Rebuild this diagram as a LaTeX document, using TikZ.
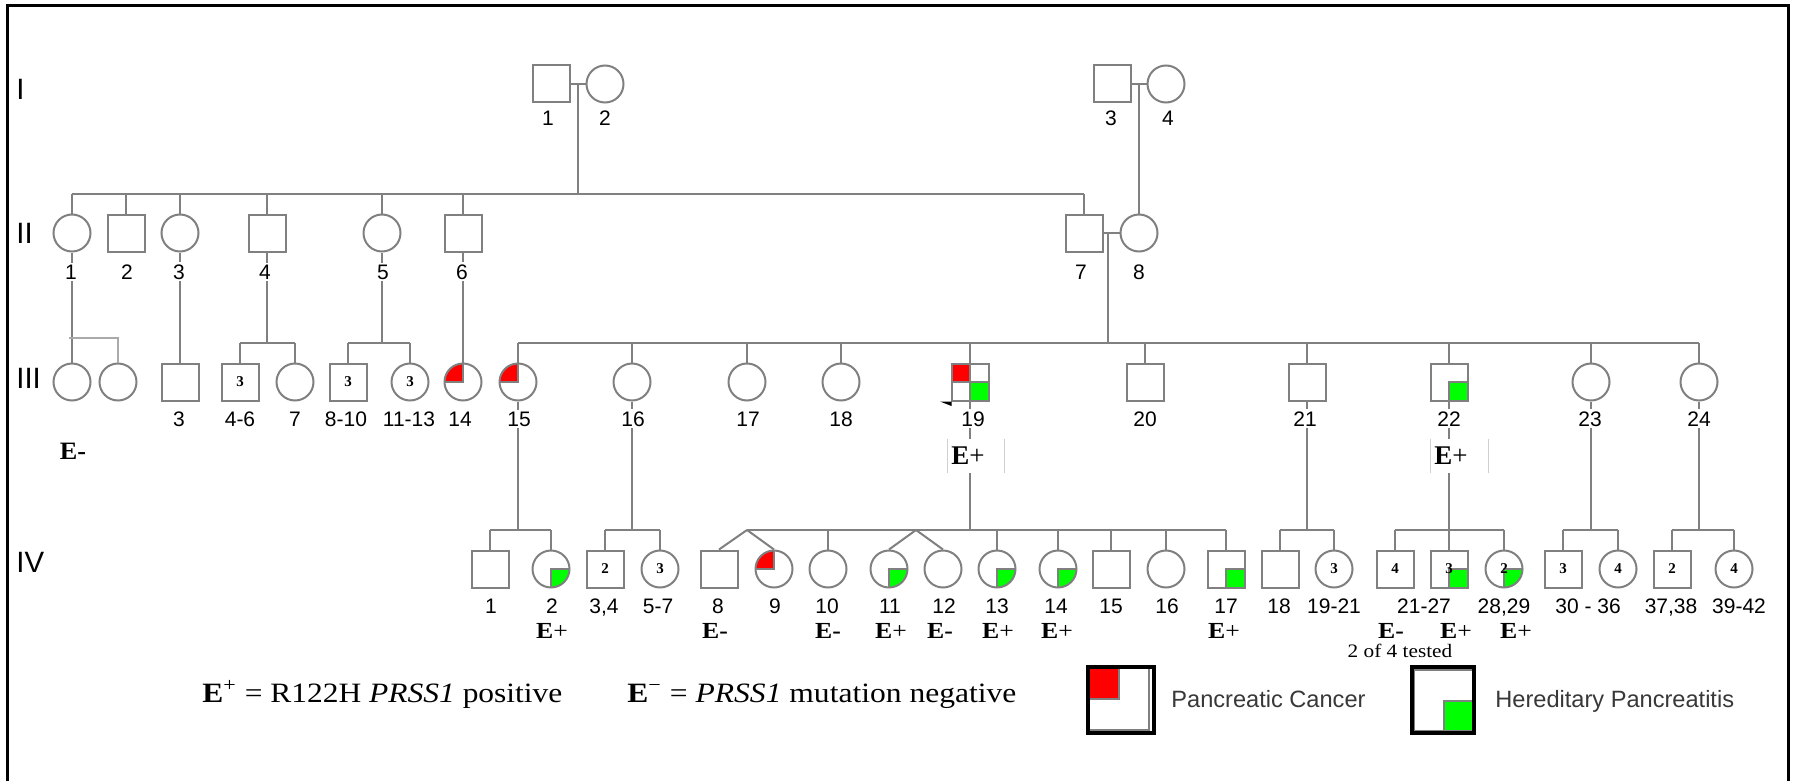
\documentclass[tikz,border=0pt]{standalone}
\usepackage{fontspec}
\setmainfont{Liberation Serif}
\setsansfont{Liberation Sans}
\usepackage{graphicx}
\usetikzlibrary{calc}
\definecolor{lc}{HTML}{808080}
\definecolor{lc2}{HTML}{AAAAAA}
\definecolor{lc3}{HTML}{D0D0D0}
\definecolor{pcred}{HTML}{FF0000}
\definecolor{hpgreen}{HTML}{00FF00}
\definecolor{legtext}{HTML}{383838}
\tikzset{
  sym/.style={draw=lc, line width=1pt, inner sep=0pt, font=\rmfamily\bfseries\fontsize{7.5}{7.5}\selectfont},
  male/.style={sym, rectangle, minimum size=18.5pt},
  female/.style={sym, circle, minimum size=18.5pt},
  pc/.style={path picture={\fill[pcred] (path picture bounding box.north west) rectangle (path picture bounding box.center);
     \draw[lc,line width=1pt] (path picture bounding box.north) -- (path picture bounding box.center) -- (path picture bounding box.west);}},
  hp/.style={path picture={\fill[hpgreen] (path picture bounding box.center) rectangle (path picture bounding box.south east);
     \draw[lc,line width=1pt] (path picture bounding box.south) -- (path picture bounding box.center) -- (path picture bounding box.east);}},
  pchp/.style={path picture={\fill[pcred] (path picture bounding box.north west) rectangle (path picture bounding box.center);
     \fill[hpgreen] (path picture bounding box.center) rectangle (path picture bounding box.south east);
     \draw[lc,line width=1pt] (path picture bounding box.north) -- (path picture bounding box.south);
     \draw[lc,line width=1pt] (path picture bounding box.west) -- (path picture bounding box.east);}},
  conn/.style={draw=lc, line width=1pt},
  lbl/.style={font=\sffamily\fontsize{10.5}{10.5}\selectfont, fill=white, inner sep=1pt, anchor=base},
  gen/.style={font=\sffamily\fontsize{14.7}{14.7}\selectfont, anchor=base west, inner sep=0pt},
  eiv/.style={font=\rmfamily\fontsize{11.5}{11.5}\selectfont, inner sep=0.5pt, anchor=base},
  ebox/.style={fill=white, minimum height=17pt, inner sep=0pt},
  etxt/.style={font=\rmfamily\fontsize{13.5}{13.5}\selectfont, inner sep=0pt, anchor=base},
  legtxt/.style={font=\sffamily\fontsize{11.8}{11.8}\selectfont, text=legtext, anchor=base west, inner sep=0pt},
  key/.style={font=\rmfamily\fontsize{14}{14}\selectfont, anchor=base west, inner sep=0pt},
}
\newcommand{\Ep}{\scalebox{1.12}[1]{\textbf{E}+}}
\newcommand{\Em}{\scalebox{1.12}[1]{\textbf{E-}}}
\begin{document}
\begin{tikzpicture}[x=0.5pt,y=-0.5pt]
\useasboundingbox (0,0) rectangle (1797,781);
\fill[white] (0,0) rectangle (1797,781);
\draw[black,line width=1.5pt] (7.5,781) -- (7.5,6) -- (1788,6) -- (1788,781);

% generation labels
\node[gen] (gI) at (16,100) {I};
\node[gen] (gII) at (16,243) {II};
\node[gen] (gIII) at (16,388) {III};
\node[gen] (gIV) at (16,572) {IV};

% generation I
\node[male] (I1) at (551,84) {};
\node[female] (I2) at (605,84) {};
\node[male] (I3) at (1112,84) {};
\node[female] (I4) at (1166,84) {};

% generation II
\node[female] (II1) at (72,233) {};
\node[male] (II2) at (126,233) {};
\node[female] (II3) at (180,233) {};
\node[male] (II4) at (267,233) {};
\node[female] (II5) at (382,233) {};
\node[male] (II6) at (463,233) {};
\node[male] (II7) at (1084,233) {};
\node[female] (II8) at (1139,233) {};

% generation III
\node[female] (III1) at (72,382) {};
\node[female] (III2) at (118,382) {};
\node[male] (III3) at (180,382) {};
\node[male] (III4) at (240,382) {3};
\node[female] (III7) at (295,382) {};
\node[male] (III8) at (348,382) {3};
\node[female] (III11) at (410,382) {3};
\node[female,pc] (III14) at (463,382) {};
\node[female,pc] (III15) at (518,382) {};
\node[female] (III16) at (632,382) {};
\node[female] (III17) at (747,382) {};
\node[female] (III18) at (841,382) {};
\node[male,pchp] (III19) at (970,382) {};
\node[male] (III20) at (1145,382) {};
\node[male] (III21) at (1307,382) {};
\node[male,hp] (III22) at (1449,382) {};
\node[female] (III23) at (1591,382) {};
\node[female] (III24) at (1699,382) {};

% generation IV
\node[male] (IV1) at (490,569) {};
\node[female,hp] (IV2) at (551,569) {};
\node[male] (IV3) at (605,569) {2};
\node[female] (IV5) at (660,569) {3};
\node[male] (IV8) at (719,569) {};
\node[female,pc] (IV9) at (774,569) {};
\node[female] (IV10) at (828,569) {};
\node[female,hp] (IV11) at (889,569) {};
\node[female] (IV12) at (943,569) {};
\node[female,hp] (IV13) at (997,569) {};
\node[female,hp] (IV14) at (1058,569) {};
\node[male] (IV15) at (1111,569) {};
\node[female] (IV16) at (1166,569) {};
\node[male,hp] (IV17) at (1226,569) {};
\node[male] (IV18) at (1280,569) {};
\node[female] (IV19) at (1334,569) {3};
\node[male] (IV21) at (1395,569) {4};
\node[male,hp] (IV22) at (1449,569) {3};
\node[female,hp] (IV28) at (1504,569) {2};
\node[male] (IV30) at (1563,569) {3};
\node[female] (IV33) at (1618,569) {4};
\node[male] (IV37) at (1672,569) {2};
\node[female] (IV39) at (1734,569) {4};

% ---------- connectors ----------
\coordinate (m12) at ($(I1.east)!0.5!(I2.west)$);
\coordinate (r2) at (578,194);
\draw[conn] (I1.east) -- (I2.west);
\draw[conn] (m12) -- (r2);
\draw[conn] (II1.north |- r2) -- (II7.north |- r2);
\foreach \n in {II1,II2,II3,II4,II5,II6,II7}
  \draw[conn] (\n.north) -- (\n.north |- r2);

\coordinate (m34) at ($(I3.east)!0.5!(I4.west)$);
\draw[conn] (I3.east) -- (I4.west);
\draw[conn] (m34) -- (m34 |- II8.north);

\coordinate (m78) at (1108,233);
\coordinate (r3) at (1108,343);
\draw[conn] (II7.east) -- (II8.west);
\draw[conn] (m78) -- (r3);
\draw[conn] (III15.north |- r3) -- (III24.north |- r3);
\foreach \n in {III15,III16,III17,III18,III19,III20,III21,III22,III23,III24}
  \draw[conn] (\n.north) -- (\n.north |- r3);

% II-1
\coordinate (t1) at (69,338);
\draw[conn] (II1.south) -- (III1.north);
\draw[conn,draw=lc2] (t1) -| (III2.north);
% II-3
\draw[conn] (II3.south) -- (III3.north);
% II-4
\draw[conn] (II4.south) -- (II4.south |- r3);
\draw[conn] (III4.north |- r3) -- (III7.north |- r3);
\draw[conn] (III4.north) -- (III4.north |- r3);
\draw[conn] (III7.north) -- (III7.north |- r3);
% II-5
\draw[conn] (II5.south) -- (II5.south |- r3);
\draw[conn] (III8.north |- r3) -- (III11.north |- r3);
\draw[conn] (III8.north) -- (III8.north |- r3);
\draw[conn] (III11.north) -- (III11.north |- r3);
% II-6
\draw[conn] (II6.south) -- (III14.north);

% generation IV sibships
\coordinate (r4) at (0,530);
\draw[conn] (III15.south) -- (III15.south |- r4);
\draw[conn] (IV1.north |- r4) -- (IV2.north |- r4);
\draw[conn] (IV1.north) -- (IV1.north |- r4);
\draw[conn] (IV2.north) -- (IV2.north |- r4);

\draw[conn] (III16.south) -- (III16.south |- r4);
\draw[conn] (IV3.north |- r4) -- (IV5.north |- r4);
\draw[conn] (IV3.north) -- (IV3.north |- r4);
\draw[conn] (IV5.north) -- (IV5.north |- r4);

\coordinate (tw1) at (747,530);
\coordinate (tw2) at (916,530);
\draw[conn] (III19.south) -- (III19.south |- r4);
\draw[conn] (tw1) -- (IV17.north |- r4);
\draw[conn] (tw1) -- (IV8.north);
\draw[conn] (tw1) -- (IV9.north);
\draw[conn] (tw2) -- (IV11.north);
\draw[conn] (tw2) -- (IV12.north);
\foreach \n in {IV10,IV13,IV14,IV15,IV16,IV17}
  \draw[conn] (\n.north) -- (\n.north |- r4);

\draw[conn] (III21.south) -- (III21.south |- r4);
\draw[conn] (IV18.north |- r4) -- (IV19.north |- r4);
\draw[conn] (IV18.north) -- (IV18.north |- r4);
\draw[conn] (IV19.north) -- (IV19.north |- r4);

\draw[conn] (III22.south) -- (III22.south |- r4);
\draw[conn] (IV21.north |- r4) -- (IV28.north |- r4);
\foreach \n in {IV21,IV22,IV28}
  \draw[conn] (\n.north) -- (\n.north |- r4);

\draw[conn] (III23.south) -- (III23.south |- r4);
\draw[conn] (IV30.north |- r4) -- (IV33.north |- r4);
\draw[conn] (IV30.north) -- (IV30.north |- r4);
\draw[conn] (IV33.north) -- (IV33.north |- r4);

\draw[conn] (III24.south) -- (III24.south |- r4);
\draw[conn] (IV37.north |- r4) -- (IV39.north |- r4);
\draw[conn] (IV37.north) -- (IV37.north |- r4);
\draw[conn] (IV39.north) -- (IV39.north |- r4);

% proband mark
\fill[black] (940,401.5) -- (951.5,401.5) -- (951.5,406) -- cycle;

% ---------- labels ----------
\foreach \x/\t [count=\i] in {548/1,605/2,1111/3,1168/4}
  \node[lbl] (lI-\i) at (\x,126) {\t};
\foreach \x/\t [count=\i] in {71/1,127/2,179/3,265/4,383/5,462/6,1081/7,1139/8}
  \node[lbl] (lII-\i) at (\x,279) {\t};
\foreach \x/\t [count=\i] in {179/3,240/4-6,295/7,346/8-10,409/11-13,460/14,519/15,633/16,748/17,841/18,973/19,1145/20,1305/21,1449/22,1590/23,1699/24}
  \node[lbl] (lIII-\i) at (\x,426) {\t};
\foreach \x/\t [count=\i] in {491/1,552/2,604/{3,4},658/5-7,718/8,775/9,827/10,890/11,944/12,997/13,1056/14,1111/15,1167/16,1226/17,1279/18,1334/19-21,1424/21-27,1504/{28,29},1588/30 - 36,1671/{37,38},1739/39-42}
  \node[lbl] (lIV-\i) at (\x,613) {\t};

% test results
\node[font=\rmfamily\bfseries\fontsize{12.5}{12.5}\selectfont, inner sep=0pt, anchor=base] (eIII1) at (73,459) {\scalebox{1.05}[1]{E-}};

\node[ebox, minimum width=28pt] (b19) at (976,456) {};
\draw[lc3, line width=0.5pt] (b19.north west) -- (b19.south west);
\draw[lc3, line width=0.5pt] (b19.north east) -- (b19.south east);
\node[etxt] (e19) at (968,464) {\textbf{E}+};

\node[ebox, minimum width=28.5pt] (b22) at (1459.5,456) {};
\draw[lc3, line width=0.5pt] (b22.north west) -- (b22.south west);
\draw[lc3, line width=0.5pt] (b22.north east) -- (b22.south east);
\node[etxt] (e22) at (1451,464) {\textbf{E}+};

\foreach \x/\s [count=\i] in {552/p,715/m,828/m,891/p,940/m,998/p,1057/p,1224/p,1391/m,1456/p,1516/p}
  \node[eiv] (eIV-\i) at (\x,638) {\if p\s\Ep\else\Em\fi};
\node[font=\rmfamily\fontsize{9.5}{9.5}\selectfont, inner sep=0pt, anchor=base] (tested) at (1400,657) {\scalebox{1.12}[1]{2 of 4 tested}};

% ---------- key ----------
\node[key] (k1) at (202,702) {\resizebox{180pt}{\height}{\textbf{E}\textsuperscript{+} = R122H \textit{PRSS1} positive}};
\node[key] (k2) at (627,702) {\resizebox{194.5pt}{\height}{\textbf{E}\textsuperscript{\char"2212} = \textit{PRSS1} mutation negative}};

\node[rectangle, draw=lc, line width=1pt, minimum width=30pt, minimum height=31pt, inner sep=0pt, pc] (LG1) at (1119,699) {};
\draw[black, line width=2pt] (1088,667) rectangle (1154,733);
\node[legtxt] (LT1) at (1171,707) {Pancreatic Cancer};

\node[rectangle, draw=lc, line width=1pt, minimum width=29.5pt, minimum height=30.5pt, inner sep=0pt, hp] (LG2) at (1443.5,700.5) {};
\draw[black, line width=2pt] (1412,667) rectangle (1474,733);
\node[legtxt] (LT2) at (1495,707) {Hereditary Pancreatitis};
\end{tikzpicture}
\end{document}
